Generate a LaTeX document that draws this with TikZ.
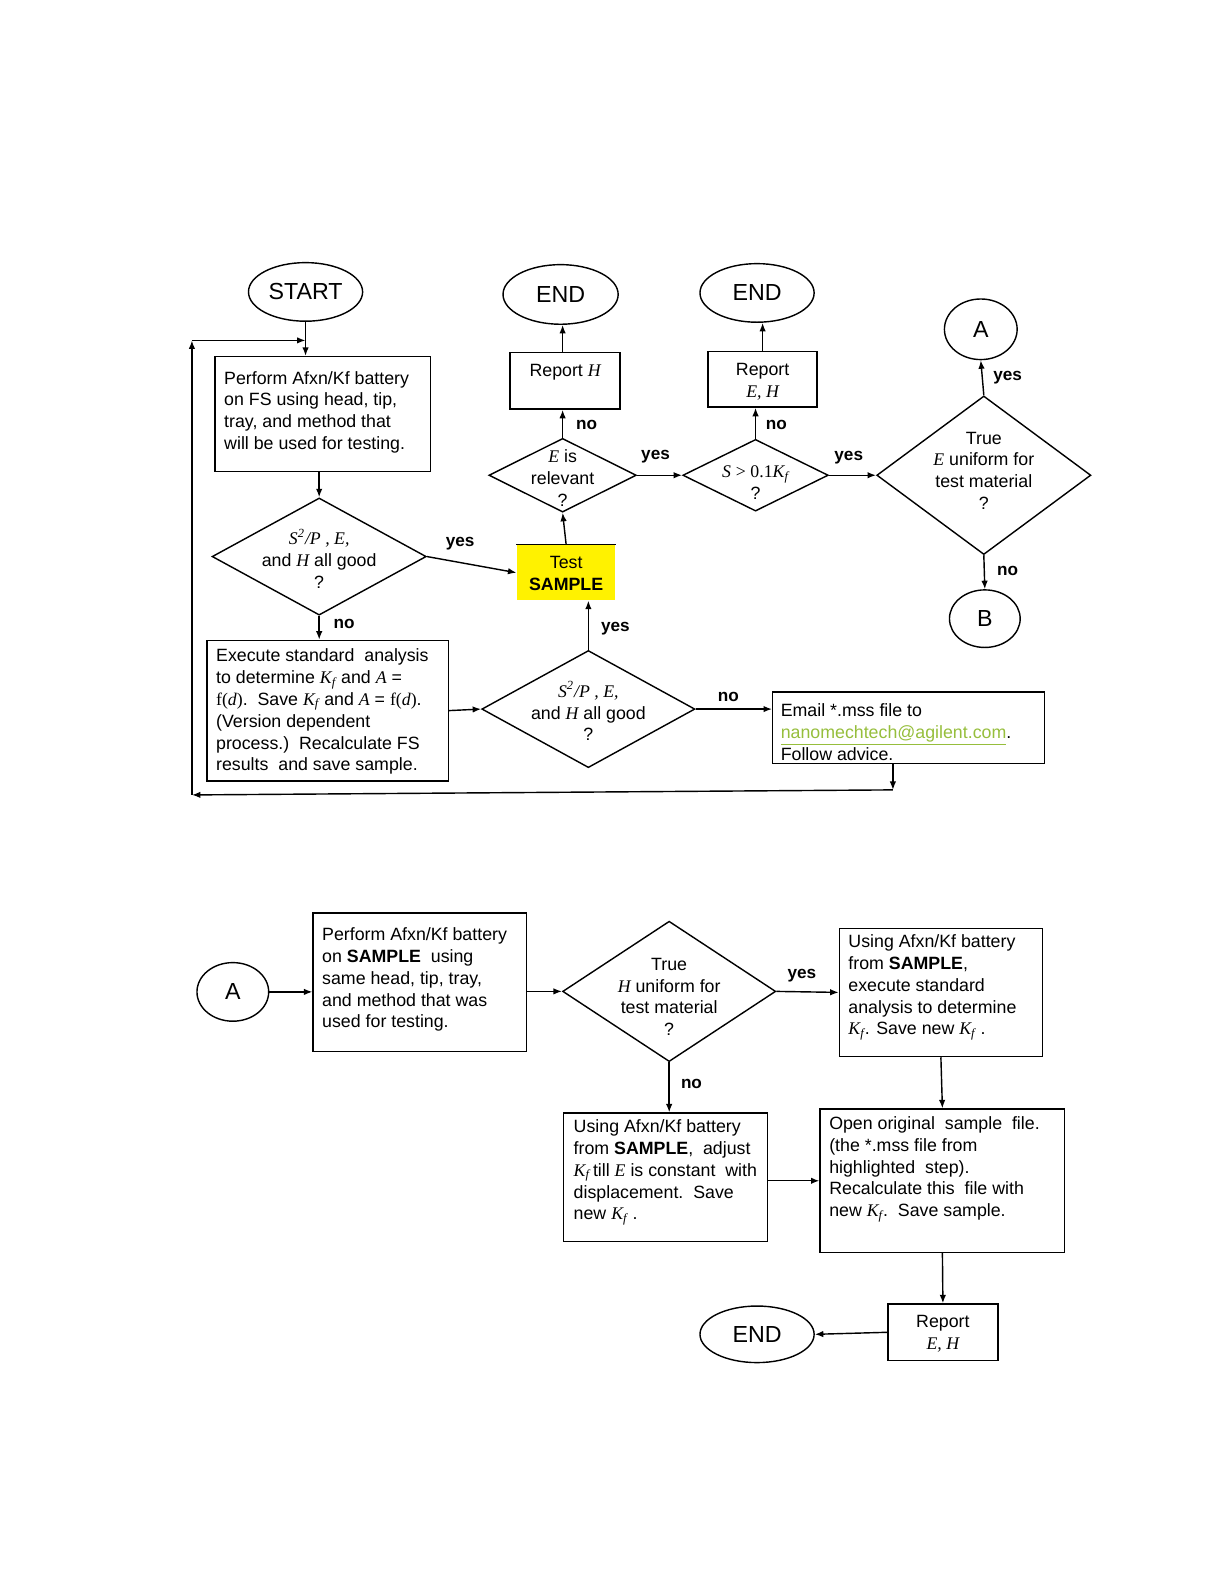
\documentclass[tikz,border=0pt]{standalone}
\usepackage{fontspec}
\setmainfont{Liberation Sans}
\newfontfamily\tnr{Liberation Serif}
\usetikzlibrary{shapes.geometric,arrows.meta}
\newcommand\mi[1]{{\tnr\itshape #1}}
\newcommand\mKf{\mi{K}\textsubscript{\mi{f}}}
\newcommand\Ln[1]{\mbox{#1}\par}
\newcommand\bl[5]{\parbox[c][#2][t]{#1}{\leftskip=#4\relax\rightskip=0pt plus 1fil\parfillskip=0pt plus 1fil\vspace*{#3}#5}}
\newcommand\bcn[4]{\parbox[c][#2][t]{#1}{\leftskip=0pt plus 1fil\rightskip=0pt plus 1fil\parfillskip=0pt\vspace*{#3}#4}}
\definecolor{linkgreen}{RGB}{150,190,60}
\begin{document}
\begin{tikzpicture}[x=0.5pt,y=-0.5pt,
  line width=0.7pt,
  arr/.style={-{Latex[length=4.2pt,width=3.2pt]}},
  term/.style={draw, ellipse, inner sep=0, font=\fontsize{11.5}{13}\selectfont},
  box/.style={draw, rectangle, inner sep=0, font=\fontsize{8.8}{10.8}\selectfont},
  dia/.style={draw, diamond, inner sep=0},
  dtxt/.style={align=center, font=\fontsize{8.8}{10.8}\selectfont, inner sep=0},
  lab/.style={font=\fontsize{8.5}{10}\selectfont\bfseries, inner sep=0}
]
\path[use as bounding box] (0,0) rectangle (1211.8,1568.2);

% terminals
\node[term, minimum width=56.5pt, minimum height=29pt] (start) at (302.5,289) {START};
\node[term, minimum width=57pt, minimum height=29.5pt] (end1) at (555,291.5) {END};
\node[term, minimum width=56.5pt, minimum height=29pt] (end2) at (749.5,290) {END};
\node[term, minimum width=36pt, minimum height=30pt] (A1) at (971,326) {A};
\node[term, minimum width=35pt, minimum height=28.5pt] (B1) at (975,612.5) {B};
\node[term, minimum width=35.5pt, minimum height=29pt] (A2) at (230.5,982) {A};
\node[term, minimum width=56.5pt, minimum height=28pt] (end3) at (749.5,1321) {END};

% boxes
\node[box] (box1) at (319.5,410) {\bl{106.5pt}{57pt}{7.25pt}{4.5pt}{%
  \Ln{Perform Afxn/Kf battery}
  \Ln{on FS using head, tip,}
  \Ln{tray, and method that}
  \Ln{will be used for testing.}}};
\node[box] (box2) at (324.5,703.5) {\bl{119.5pt}{69.5pt}{4.25pt}{4.5pt}{%
  \Ln{Execute standard\ \ analysis}
  \Ln{to determine \mKf\ and \mi{A} =}
  \Ln{{\tnr f(}\mi{d}{\tnr )}.\ \ Save \mKf\ and \mi{A} = {\tnr f(}\mi{d}{\tnr )}.}
  \Ln{(Version dependent}
  \Ln{process.)\ \ Recalculate FS}
  \Ln{results\ \ and save sample.}}};
\node[box] (RH) at (559.5,377) {\bcn{54.5pt}{28pt}{5.75pt}{\Ln{Report \mi{H}}}};
\node[box] (REH) at (755,375.5) {\bcn{54pt}{27.5pt}{5.75pt}{\Ln{Report}\Ln{\mi{E, H}}}};
\node[box, draw=none, fill=yellow] (test) at (560.5,567) {\bcn{48.5pt}{27pt}{5.25pt}{\Ln{Test}\Ln{\textbf{SAMPLE}}}};
\draw (test.north west) -- (test.north east);
\node[box] (email) at (899.5,720.5) {\bl{134.5pt}{35.5pt}{5.75pt}{4pt}{%
  \Ln{Email *.mss file to}
  \Ln{{\color{linkgreen}\underline{nanomechtech@agilent.com}}.}
  \Ln{Follow advice.}}};
\node[box] (box3) at (415.5,972.5) {\bl{105.5pt}{68.5pt}{7.25pt}{4.5pt}{%
  \Ln{Perform Afxn/Kf battery}
  \Ln{on \textbf{SAMPLE}\ \ using}
  \Ln{same head, tip, tray,}
  \Ln{and method that was}
  \Ln{used for testing.}}};
\node[box] (box4) at (931.5,982.5) {\bl{100.5pt}{63.5pt}{3.25pt}{4.5pt}{%
  \Ln{Using Afxn/Kf battery}
  \Ln{from \textbf{SAMPLE},}
  \Ln{execute standard}
  \Ln{analysis to determine}
  \Ln{\mKf. Save new \mKf\ .}}};
\node[box] (box5) at (659,1165.5) {\bl{101pt}{63.5pt}{3.25pt}{5pt}{%
  \Ln{Using Afxn/Kf battery}
  \Ln{from \textbf{SAMPLE},\ \ adjust}
  \Ln{\mKf\,till \mi{E} is constant\ \ with}
  \Ln{displacement.\ \ Save}
  \Ln{new \mKf\ .}}};
\node[box] (box6) at (933,1169) {\bl{121pt}{71pt}{3.75pt}{4.5pt}{%
  \Ln{Open original\ \ sample\ \ file.}
  \Ln{(the *.mss file from}
  \Ln{highlighted\ \ step).}
  \Ln{Recalculate this\ \ file with}
  \Ln{new \mKf.\ \ Save sample.}}};
\node[box] (RB) at (933.5,1319) {\bcn{54.5pt}{28pt}{5.75pt}{\Ln{Report}\Ln{\mi{E, H}}}};

% decisions
\node[dia, minimum width=106pt, minimum height=58pt,
  label={[dtxt, yshift=-1pt]center:{\mi{S\textsuperscript{2}/P , E,}\\and \mi{H} all good\\?}}] (d1) at (316,551) {};
\node[dia, minimum width=73pt, minimum height=36.5pt,
  label={[dtxt, yshift=-1.25pt]center:{\mi{E} is\\relevant\\?}}] (dE) at (557,470.5) {};
\node[dia, minimum width=72pt, minimum height=35.5pt,
  label={[dtxt, yshift=-3.75pt]center:{\mi{S} {\tnr > 0.1}\mKf\\?}}] (dSK) at (748,470.5) {};
\node[dia, minimum width=106pt, minimum height=78.5pt,
  label={[dtxt, yshift=2.25pt]center:{True\\\mi{E} uniform for\\test material\\?}}] (dT) at (974,470.5) {};
\node[dia, minimum width=105.5pt, minimum height=58pt,
  label={[dtxt, yshift=-1pt]center:{\mi{S\textsuperscript{2}/P , E,}\\and \mi{H} all good\\?}}] (dS) at (582.5,702) {};
\node[dia, minimum width=105.5pt, minimum height=69.5pt,
  label={[dtxt, yshift=-2.75pt]center:{True\\\mi{H} uniform for\\test material\\?}}] (dH) at (662.5,981.5) {};

% connectors, upper part
\draw[arr] (start.south) -- (start.south |- box1.north);
\coordinate (c1) at (884,782);
\coordinate (c2) at (190,787);
\coordinate (c3) at (190,337);
\coordinate (c4) at (302.5,337);
\draw[arr] (c1 |- email.south) -- (c1);
\draw[arr] (c1) -- (c2);
\draw[arr] (c2) -- (c3);
\draw[arr] (c3) -- (c4);

\draw[arr] (d1.north |- box1.south) -- (d1.north);
\draw[arr] (d1.east) -- node[lab, pos=0.37, above=6pt]{yes} (test.west);
\draw[arr] (d1.south) -- node[lab, pos=0.32, right=6.8pt]{no} (d1.south |- box2.north);
\draw[arr] (box2.east) -- (dS.west);
\draw[arr] (dS.north) -- node[lab, pos=0.44, right=5.9pt]{yes} (dS.north |- test.south);
\draw[arr] (dS.east) -- node[lab, pos=0.43, above=3.5pt]{no} (dS.east -| email.west);
\draw[arr] (test.north) -- (dE.south);
\draw[arr] (dE.north) -- node[lab, pos=0.45, right=6.3pt]{no} (dE.north |- RH.south);
\draw[arr] (dE.north |- RH.north) -- (dE.north |- end1.south);
\draw[arr] (dE.east) -- node[lab, pos=0.41, above=5.5pt]{yes} (dSK.west);
\draw[arr] (dSK.north) -- node[lab, pos=0.44, right=4.8pt]{no} (dSK.north |- REH.south);
\draw[arr] (REH.north) -- (REH.north |- end2.south);
\draw[arr] (dSK.east) -- node[lab, pos=0.42, above=5pt]{yes} (dT.west);
\draw[arr] (dT.north) -- node[lab, pos=0.5, right=5.1pt]{yes} (A1.south);
\draw[arr] (dT.south) -- node[lab, pos=0.46, right=6pt]{no} (B1.north);

% connectors, lower part
\draw[arr] (A2.east) -- (A2.east -| box3.west);
\draw[arr] (box3.east |- dH.west) -- (dH.west);
\draw[arr] (dH.east) -- node[lab, pos=0.41, above=4.5pt]{yes} (box4.west);
\draw[arr] (dH.south) -- node[lab, pos=0.43, right=5.5pt]{no} (dH.south |- box5.north);
\draw[arr] (box4.south) -- (box6.north);
\draw[arr] (box5.east |- box6.west) -- (box6.west);
\draw[arr] (box6.south) -- (RB.north);
\draw[arr] (RB.west) -- (end3.east);
\end{tikzpicture}
\end{document}
